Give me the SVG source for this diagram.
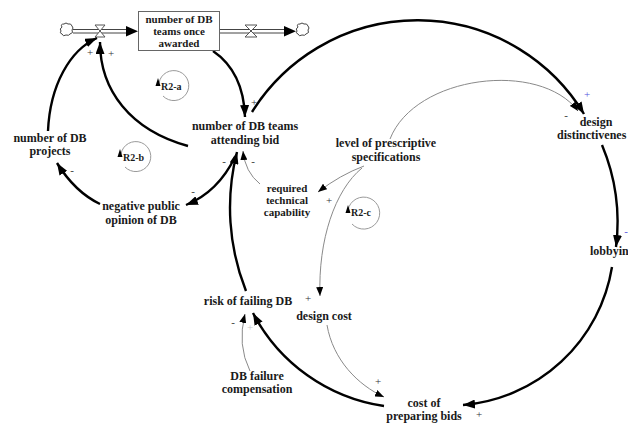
<svg xmlns="http://www.w3.org/2000/svg" width="628" height="423" viewBox="0 0 628 423">
<style>
  .lbl{font-family:"Liberation Serif","Times New Roman",serif;font-weight:bold;font-size:12px;fill:#1a1a1a;text-anchor:middle}
  .sm{font-size:11px}
  .loop{font-family:"Liberation Serif","Times New Roman",serif;font-weight:bold;font-size:10px;fill:#1a1a1a}
  .sgn{font-family:"Liberation Serif","Times New Roman",serif;font-size:11px;fill:#333;text-anchor:middle}
  .thick{fill:none;stroke:#000;stroke-width:2.4;marker-end:url(#ah)}
  .thin{fill:none;stroke:#8a8a8a;stroke-width:1;marker-end:url(#at)}
  .ring{fill:none;stroke:#9a9a9a;stroke-width:1}
  .pipe{fill:none;stroke:#444;stroke-width:1}
</style>
<defs>
  <marker id="ah" markerUnits="userSpaceOnUse" markerWidth="13" markerHeight="9" refX="12" refY="4.5" orient="auto">
    <path d="M0,0 L12,4.5 L0,9 z" fill="#000"/>
  </marker>
  <marker id="at" markerUnits="userSpaceOnUse" markerWidth="10" markerHeight="7" refX="9" refY="3.5" orient="auto">
    <path d="M0,0 L9,3.5 L0,7 z" fill="#000"/>
  </marker>
</defs>
<rect width="628" height="423" fill="#fff"/>

<g id="connectors">
  <g id="inflow">
    <path class="pipe" d="M62,27 q-2,-3 2,-3 q2,-2 4,0 q3,-1 4,2 q2,2 0,4 q2,3 -2,4 q-1,2 -4,1 q-3,2 -4,-1 q-3,-1 -1,-3 q-2,-2 1,-4 z"/>
    <line class="pipe" x1="73" y1="29.5" x2="127" y2="29.5"/>
    <line class="pipe" x1="73" y1="33" x2="127" y2="33"/>
    <path d="M126,26 L138,31.2 L126,36.4 z" fill="#000"/>
    <path d="M95,25 L105,25 L95,37 L105,37 z" fill="#fff" stroke="#555" stroke-width="1"/>
  </g>
  <g id="outflow">
    <line class="pipe" x1="220" y1="29.5" x2="286" y2="29.5"/>
    <line class="pipe" x1="220" y1="33" x2="286" y2="33"/>
    <path d="M245,25 L257,25 L245,37 L257,37 z" fill="#fff" stroke="#555" stroke-width="1"/>
    <path d="M284,26 L296,31.2 L284,36.4 z" fill="#000"/>
    <path class="pipe" d="M298,27 q-2,-3 2,-3 q2,-2 4,0 q3,-1 4,2 q2,2 0,4 q2,3 -2,4 q-1,2 -4,1 q-3,2 -4,-1 q-3,-1 -1,-3 q-2,-2 1,-4 z"/>
  </g>

  <path class="thick" d="M213,51 C232,64 244,86 245,117"/>
  <path class="thick" d="M48,131 C50,85 70,50 97,38"/>
  <path class="thick" d="M188,146 C130,130 100,90 100,42"/>
  <path class="thick" d="M252,112 A195,195 0 0 1 584,114"/>
  <path class="thick" d="M602,145 A200,200 0 0 1 616,247"/>
  <path class="thick" d="M612,267 A165,165 0 0 1 463,405"/>
  <path class="thick" d="M384,406 A177,177 0 0 1 253,313"/>
  <path class="thick" d="M246,291 A225,225 0 0 1 237,152"/>
  <path class="thick" d="M235,157 Q218,192 186,205"/>
  <path class="thick" d="M100,204 Q75,192 57,163"/>

  <path class="thin" d="M260,184 Q245,172 243,151"/>
  <path class="thin" d="M364,166 Q340,175 318,192"/>
  <path class="thin" d="M362,168 C335,190 318,240 320,296"/>
  <path class="thin" d="M390,139 C415,75 540,60 578,111"/>
  <path class="thin" d="M327,325 C333,360 358,385 384,397"/>
  <path class="thin" d="M250,371 Q237,345 245,314"/>

  <text class="sgn" x="90" y="56">+</text>
  <text class="sgn" x="111" y="57">+</text>
  <text class="sgn" x="254" y="106">+</text>
  <text class="sgn" x="587" y="98" style="fill:#5555dd">+</text>
  <text class="sgn" x="566" y="119">-</text>
  <text class="sgn" x="224" y="165">-</text>
  <text class="sgn" x="253" y="165">-</text>
  <text class="sgn" x="193" y="195">-</text>
  <text class="sgn" x="72" y="174">-</text>
  <text class="sgn" x="329" y="204">+</text>
  <text class="sgn" x="308" y="302">+</text>
  <text class="sgn" x="378" y="385">+</text>
  <text class="sgn" x="479" y="418">+</text>
  <text class="sgn" x="626" y="235" style="fill:#5555dd">-</text>
  <text class="sgn" x="233" y="326">-</text>
  <text class="sgn" x="250" y="331" style="fill:#c8c8c8">+</text>
</g>

<g id="stock-awarded">
  <rect x="138.5" y="11.5" width="81" height="39" fill="#fff" stroke="#666" stroke-width="1"/>
  <text class="lbl sm" x="179" y="22.5">number of DB</text>
  <text class="lbl sm" x="179" y="34.8">teams once</text>
  <text class="lbl sm" x="179" y="47.1">awarded</text>
</g>
<g id="teams-attending">
  <text class="lbl" x="245" y="130">number of DB teams</text>
  <text class="lbl" x="245" y="144">attending bid</text>
</g>
<g id="db-projects">
  <text class="lbl" x="50" y="141.5">number of DB</text>
  <text class="lbl" x="50" y="155">projects</text>
</g>
<g id="negative-opinion">
  <text class="lbl" x="141" y="210">negative public</text>
  <text class="lbl" x="141" y="223.5">opinion of DB</text>
</g>
<g id="required-capability">
  <text class="lbl sm" x="287" y="191.5">required</text>
  <text class="lbl sm" x="287" y="203.8">technical</text>
  <text class="lbl sm" x="287" y="216.1">capability</text>
</g>
<g id="prescriptive-specs">
  <text class="lbl" x="386" y="147">level of prescriptive</text>
  <text class="lbl" x="386" y="160.5">specifications</text>
</g>
<g id="design-distinctiveness">
  <text class="lbl" x="596" y="125.5">design</text>
  <text class="lbl" x="557" y="139" style="text-anchor:start">distinctivenes</text>
</g>
<g id="lobbying">
  <text class="lbl" x="590" y="255" style="text-anchor:start">lobbyin</text>
</g>
<g id="risk-failing">
  <text class="lbl" x="248" y="305">risk of failing DB</text>
</g>
<g id="design-cost">
  <text class="lbl" x="324" y="320">design cost</text>
</g>
<g id="failure-compensation">
  <text class="lbl" x="257" y="379.5">DB failure</text>
  <text class="lbl" x="257" y="393">compensation</text>
</g>
<g id="cost-preparing">
  <text class="lbl" x="424" y="406.5">cost of</text>
  <text class="lbl" x="424" y="420">preparing bids</text>
</g>

<g id="loop-R2-a">
  <path class="ring" d="M159,83 A15,15 0 1 1 163,96"/>
  <path d="M158,78 L155.5,86 L160.5,86 z" fill="#000"/>
  <text class="loop" x="161" y="90">R2-a</text>
</g>
<g id="loop-R2-b">
  <path class="ring" d="M121,154 A15,15 0 1 1 125,167"/>
  <path d="M120,149 L117.5,157 L122.5,157 z" fill="#000"/>
  <text class="loop" x="123" y="161">R2-b</text>
</g>
<g id="loop-R2-c">
  <path class="ring" d="M348,210 A16,16 0 1 1 352,224"/>
  <path d="M348,205 L345.5,213 L350.5,213 z" fill="#000"/>
  <text class="loop" x="351" y="216">R2-c</text>
</g>
</svg>
